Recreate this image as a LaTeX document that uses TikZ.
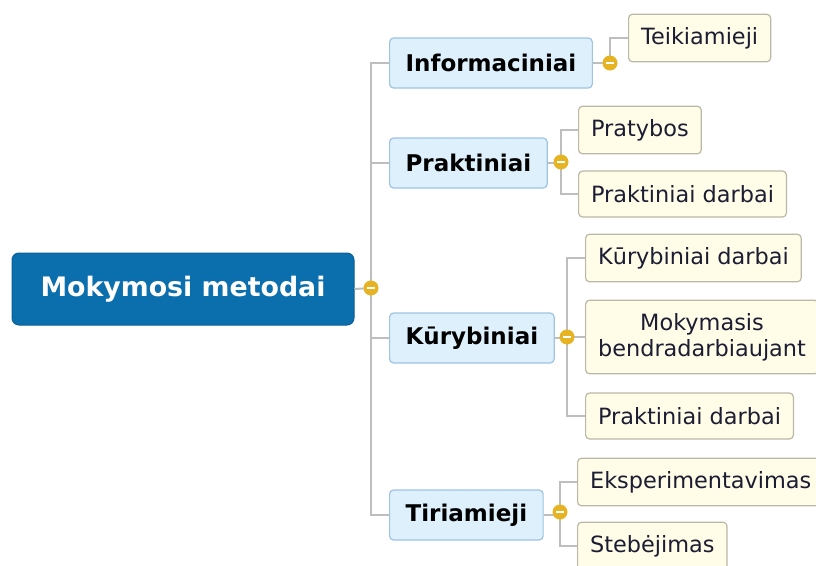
\documentclass[tikz,border=0pt]{standalone}
\usepackage{fontspec}
\setmainfont{DejaVu Sans}
\usepackage{xcolor}
\usepackage{tikz}
\usetikzlibrary{calc}
\usetikzlibrary{positioning}

\definecolor{rootblue}{HTML}{0B6FAD}
\definecolor{rootedge}{HTML}{0A5F98}
\definecolor{catfill}{HTML}{DDF0FC}
\definecolor{catedge}{HTML}{9FC3E3}
\definecolor{leaffill}{HTML}{FFFDE8}
\definecolor{leafedge}{HTML}{BCB7A6}
\definecolor{linegray}{HTML}{BEBEBE}
\definecolor{knob}{HTML}{E6B422}
\definecolor{leaftext}{HTML}{1C1C33}

\tikzset{
	rootbox/.style={draw=rootedge,fill=rootblue,text=white,rounded corners=7pt,line width=1pt,
		minimum width=342pt,minimum height=72pt,font=\fontsize{26.8}{30}\selectfont\bfseries},
	catbox/.style={draw=catedge,fill=catfill,text=black,rounded corners=4pt,line width=1.2pt,
		anchor=west,inner xsep=16pt,minimum height=50pt,font=\fontsize{23}{26}\selectfont\bfseries},
	leafbox/.style={draw=leafedge,fill=leaffill,text=leaftext,rounded corners=4pt,line width=1.2pt,
		anchor=west,inner xsep=12.5pt,inner ysep=13pt,minimum height=46pt,align=center,
		font=\fontsize{22.4}{26}\selectfont},
	conn/.style={draw=linegray,line width=2pt},
	knobmark/.style={circle,fill=knob,minimum size=15pt,inner sep=0pt,
		path picture={\draw[white,line width=2.6pt] ([xshift=-4pt]path picture bounding box.center) -- ([xshift=4pt]path picture bounding box.center);}}
}

\begin{document}
\begin{tikzpicture}[x=1pt,y=-1pt]
		\useasboundingbox (0,0) rectangle (816,565);
		\clip (0,0) rectangle (816,565);
		% centre
		\node[rootbox] (root) at (183,289) {Mokymosi metodai};
		% kategorijos
		\node[catbox] (inf) at (389,63) {Informaciniai};
		\node[catbox] (pra) at (389,163) {Praktiniai};
		\node[catbox] (kur) at (389,338) {Kūrybiniai};
		\node[catbox] (tir) at (389,515) {Tiriamieji};
		% lapai
		\node[leafbox] (teik) at (628,38) {Teikiamieji};
		\node[leafbox] (prat) at (578,130) {Pratybos};
		\node[leafbox] (pdA) at (578,194) {Praktiniai darbai};
		\node[leafbox] (kd) at (585,258) {Kūrybiniai darbai};
		\node[leafbox] (mb) at (585,337) {Mokymasis\\bendradarbiaujant};
		\node[leafbox] (pdB) at (585,416) {Praktiniai darbai};
		\node[leafbox] (eks) at (577,482) {Eksperimentavimas};
		\node[leafbox] (steb) at (577,546) {Stebėjimas};
		% mazgai
		\coordinate (h0) at (371,288);
		\coordinate (h1) at (610,63);
		\coordinate (h2) at (561,162);
		\coordinate (h3) at (567,337);
		\coordinate (h4) at (560,512);
		% linijos
		\draw[conn] (root.east) -- (h0);
		\draw[conn] (h0) |- (inf.west);
		\draw[conn] (h0) |- (pra.west);
		\draw[conn] (h0) |- (kur.west);
		\draw[conn] (h0) |- (tir.west);
		\draw[conn] (inf.east) -- (h1) |- (teik.west);
		\draw[conn] (pra.east) -- (pra.east -| h2);
		\draw[conn] (h2) |- (prat.west);
		\draw[conn] (h2) |- (pdA.west);
		\draw[conn] (kur.east) -- (kur.east -| h3);
		\draw[conn] (h3) |- (kd.west);
		\draw[conn] (h3) |- (mb.west);
		\draw[conn] (h3) |- (pdB.west);
		\draw[conn] (tir.east) -- (tir.east -| h4);
		\draw[conn] (h4) |- (eks.west);
		\draw[conn] (h4) |- (steb.west);
		% rankenos
		\node[knobmark] (k0) at (h0) {};
		\node[knobmark] (k1) at (h1) {};
		\node[knobmark] (k2) at (h2) {};
		\node[knobmark] (k3) at (h3) {};
		\node[knobmark] (k4) at (h4) {};
	\end{tikzpicture}
\end{document}
